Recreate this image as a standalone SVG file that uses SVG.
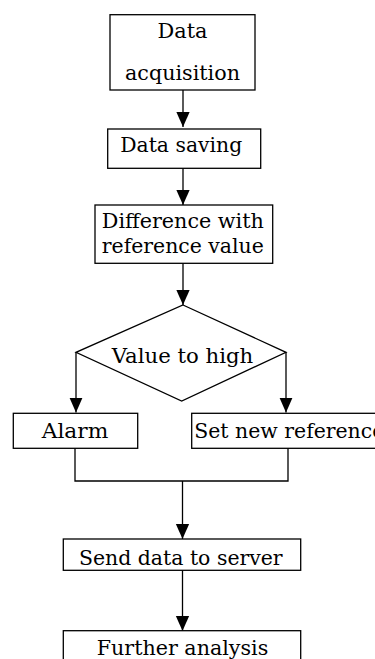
<svg xmlns="http://www.w3.org/2000/svg" width="375" height="659" viewBox="0 0 375 659">
<style>
.box{fill:#fff;stroke:#000;stroke-width:1.3}
.ln{fill:none;stroke:#000;stroke-width:1.3}
text{font-family:"DejaVu Serif","Liberation Serif",serif;font-size:20px;fill:#000;text-anchor:middle}
</style>
<defs>
<marker id="ah" markerUnits="userSpaceOnUse" markerWidth="15" markerHeight="18" viewBox="0 0 17 15" refX="17" refY="7.5" orient="auto">
<path d="M0,0 L17,7.5 L0,15 Z" fill="#000"/>
</marker>
</defs>
<g id="connectors">
<line class="ln" x1="183" y1="90" x2="183" y2="127" marker-end="url(#ah)"/>
<line class="ln" x1="183" y1="168" x2="183" y2="205" marker-end="url(#ah)"/>
<line class="ln" x1="183" y1="263" x2="183" y2="305" marker-end="url(#ah)"/>
<polyline class="ln" points="76,352 76,412.5" marker-end="url(#ah)"/>
<polyline class="ln" points="286,352 286,412.5" marker-end="url(#ah)"/>
<polyline class="ln" points="75,448 75,481 288,481 288,448"/>
<line class="ln" x1="182.5" y1="481" x2="182.5" y2="539" marker-end="url(#ah)"/>
<line class="ln" x1="182.5" y1="570" x2="182.5" y2="631" marker-end="url(#ah)"/>
</g>
<g id="acquisition">
<rect class="box" x="110" y="14.7" width="145" height="75.3"/>
<text x="182.5" y="37.5" textLength="50" lengthAdjust="spacingAndGlyphs">Data</text>
<text x="182.5" y="80" textLength="115" lengthAdjust="spacingAndGlyphs">acquisition</text>
</g>
<g id="saving">
<rect class="box" x="107.7" y="129" width="153" height="39.3"/>
<text x="181.2" y="151.7" textLength="122" lengthAdjust="spacingAndGlyphs">Data saving</text>
</g>
<g id="difference">
<rect class="box" x="95" y="205" width="177.7" height="58.3"/>
<text x="182.8" y="228.3" textLength="162" lengthAdjust="spacingAndGlyphs">Difference with</text>
<text x="182.8" y="253.3" textLength="162" lengthAdjust="spacingAndGlyphs">reference value</text>
</g>
<g id="decision">
<polygon class="box" points="183,305 286,352.3 181.7,401 76,352.3"/>
<text x="182.5" y="363.3" textLength="141.6" lengthAdjust="spacingAndGlyphs">Value to high</text>
</g>
<g id="alarm">
<rect class="box" x="13.3" y="413.3" width="124.4" height="35"/>
<text x="75" y="438" textLength="66.6" lengthAdjust="spacingAndGlyphs">Alarm</text>
</g>
<g id="newref">
<rect class="box" x="191.7" y="413.3" width="200" height="35"/>
<text x="194.3" y="438" style="text-anchor:start" textLength="190" lengthAdjust="spacingAndGlyphs">Set new reference</text>
</g>
<g id="send">
<rect class="box" x="63.3" y="539" width="237.4" height="31.3"/>
<text x="180.8" y="565" textLength="203.7" lengthAdjust="spacingAndGlyphs">Send data to server</text>
</g>
<g id="further">
<rect class="box" x="63.3" y="630.7" width="237.4" height="40"/>
<text x="182.5" y="655" textLength="171.6" lengthAdjust="spacingAndGlyphs">Further analysis</text>
</g>
</svg>
